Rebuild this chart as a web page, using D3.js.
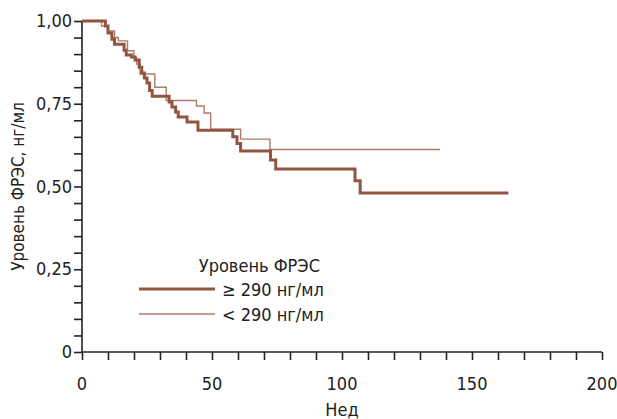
<!DOCTYPE html>
<html>
<head>
<meta charset="utf-8">
<script src="https://cdn.jsdelivr.net/npm/d3@7"></script>
<style>
  body { margin: 0; background: #fff; }
  text { font-family: "Liberation Sans Narrow", "DejaVu Sans Condensed", "Roboto", sans-serif; fill: #222; }
</style>
</head>
<body>
<svg id="chart"></svg>
<script>
// Kaplan-Meier steps: [week, survival after the drop]
const highGroup = [
  [0, 1.0], [9, 0.985], [10, 0.964], [11.5, 0.945], [12.5, 0.93], [16.2, 0.912],
  [17, 0.897], [19, 0.891], [20.4, 0.882], [22, 0.86], [23, 0.843], [24, 0.828],
  [25, 0.813], [26, 0.79], [27, 0.773], [33.5, 0.755], [34.6, 0.74], [36, 0.725],
  [37, 0.71], [40.4, 0.695], [44.6, 0.67], [58, 0.65], [59.6, 0.63], [61, 0.607],
  [72.5, 0.58], [74.5, 0.553], [105, 0.517], [107, 0.48], [164, 0.48]
];
const lowGroup = [
  [0, 1.0], [7.5, 0.985], [10, 0.97], [12.5, 0.95], [14, 0.94], [17.5, 0.91],
  [20, 0.89], [21, 0.87], [22.3, 0.84], [28, 0.80], [32.4, 0.76], [44, 0.743],
  [47, 0.722], [49.5, 0.673], [61, 0.643], [72.3, 0.612], [137.7, 0.612]
];
const xTicks = [0, 50, 100, 150, 200];
const yTicks = [0, 0.25, 0.5, 0.75, 1];
const yTickLabels = ["0", "0,25", "0,50", "0,75", "1,00"];
const legendLabels = ["≥ 290 нг/мл", "< 290 нг/мл"];

const width = 617, height = 419;
const margin = { top: 21, right: 15, bottom: 67, left: 82 };

const svg = d3.select("#chart").attr("width", width).attr("height", height);

const x = d3.scaleLinear().domain([0, 200]).range([margin.left, 602]);
const y = d3.scaleLinear().domain([0, 1]).range([352, margin.top]);

// Axes with minor ticks
const xAxis = svg.append("g").attr("transform", `translate(0,${y(0)})`)
  .call(d3.axisBottom(x).tickValues(d3.range(0, 201, 10)).tickSize(8).tickFormat(""));
xAxis.selectAll("line, path").attr("stroke", "#222").attr("stroke-width", 1.6);
xAxis.select(".domain").attr("d", `M${x(0)},0H${x(200)}`);

const yAxis = svg.append("g").attr("transform", `translate(${x(0)},0)`)
  .call(d3.axisLeft(y).tickValues(d3.range(0, 1.001, 0.05)).tickSize(8).tickFormat(""));
yAxis.selectAll("line, path").attr("stroke", "#222").attr("stroke-width", 1.6);
yAxis.select(".domain").attr("d", `M0,${y(0)}V${y(1)}`);

svg.selectAll(".xlab").data(xTicks).enter().append("text")
  .attr("x", d => x(d)).attr("y", 390)
  .attr("text-anchor", "middle").attr("font-size", 18).text(d => d);

svg.selectAll(".ylab").data(yTicks).enter().append("text")
  .attr("x", 72).attr("y", d => y(d) + 6)
  .attr("text-anchor", "end").attr("font-size", 18)
  .text((d, i) => yTickLabels[i]);

svg.append("text").attr("x", 342).attr("y", 416)
  .attr("text-anchor", "middle").attr("font-size", 18).text("Нед");

svg.append("text").attr("transform", `translate(24,${(y(0) + y(1)) / 2}) rotate(-90)`)
  .attr("text-anchor", "middle").attr("font-size", 17).text("Уровень ФРЭС, нг/мл");

// Curves
const line = d3.line().x(d => x(d[0])).y(d => y(d[1])).curve(d3.curveStepAfter);

svg.append("path").datum(lowGroup)
  .attr("fill", "none").attr("stroke", "#b07a6a").attr("stroke-width", 1.4)
  .attr("d", line);
svg.append("path").datum(highGroup)
  .attr("fill", "none").attr("stroke", "#925542").attr("stroke-width", 3)
  .attr("d", line);

// Legend
svg.append("text").attr("x", 320).attr("y", 272)
  .attr("text-anchor", "end").attr("font-size", 18).text("Уровень ФРЭС");
const legendStyles = [{ c: "#925542", w: 3 }, { c: "#b07a6a", w: 1.4 }];
legendLabels.forEach((lab, i) => {
  const ly = 289 + i * 25;
  svg.append("line").attr("x1", 139).attr("x2", 215).attr("y1", ly).attr("y2", ly)
    .attr("stroke", legendStyles[i].c).attr("stroke-width", legendStyles[i].w);
  svg.append("text").attr("x", 222).attr("y", ly + 7)
    .attr("font-size", 18).text(lab);
});
</script>
</body>
</html>
